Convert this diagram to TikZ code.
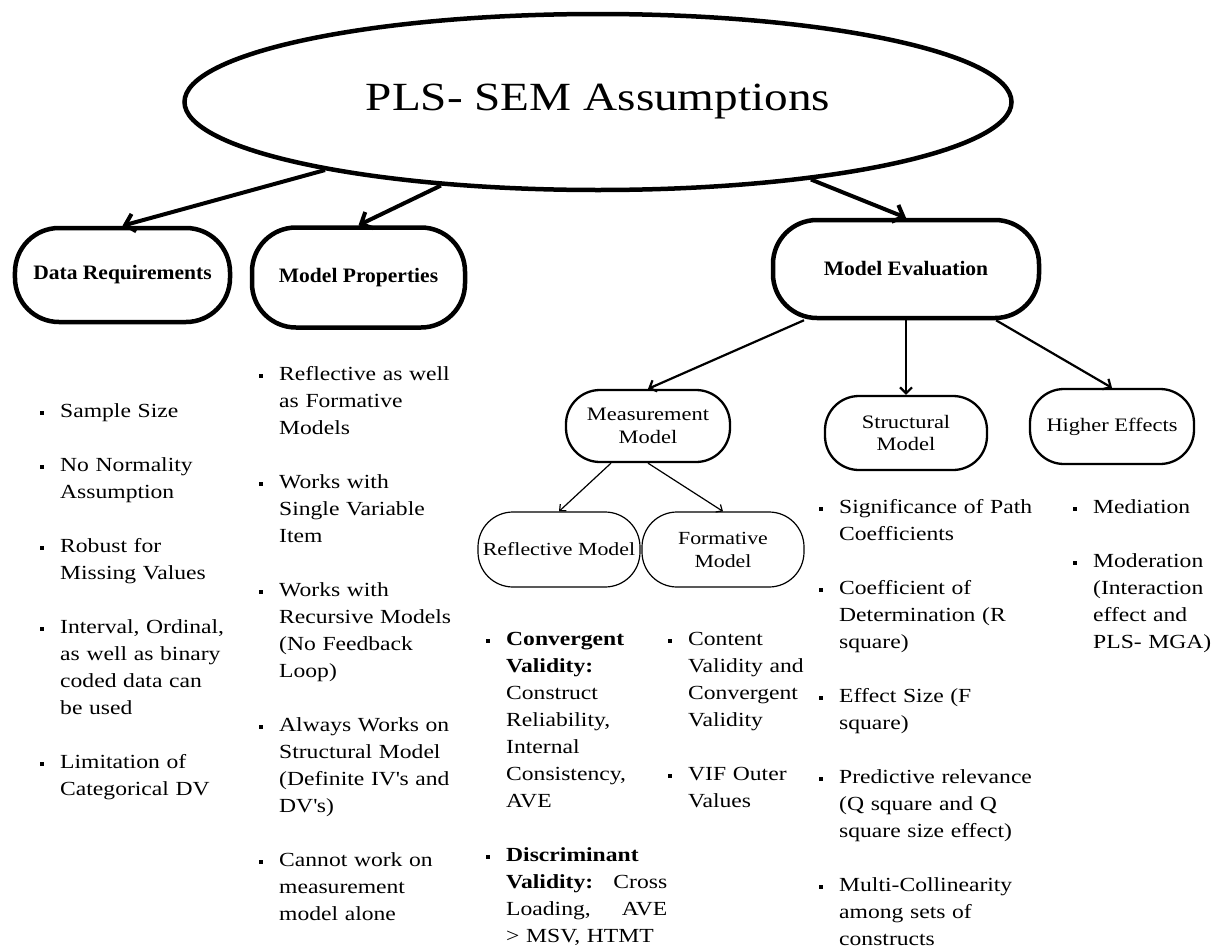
\documentclass[tikz,border=0pt]{standalone}
\usepackage{fontspec}
\setmainfont{Liberation Serif}[FakeStretch=1.18]
\newfontfamily\headfont{Liberation Serif}[FakeStretch=1.05]
\usetikzlibrary{shapes.geometric,arrows.meta}

% small square list mark placed left of each item
\newcommand{\bul}{\leavevmode\llap{\raisebox{2.5bp}{\rule{3.5bp}{3.5bp}}\hspace{16.5bp}}}
% a line spread out to the full column width
\newcommand{\fullline}[1]{\leavevmode\hbox to 161bp{#1}}

\begin{document}
\begin{tikzpicture}[x=1bp,y=-1bp,
  titlenode/.style={ellipse, draw, line width=4.5bp, minimum width=827bp,
    minimum height=176bp, inner sep=0pt, font=\fontsize{40bp}{48bp}\selectfont},
  topbox/.style={draw, line width=4.5bp, rounded corners=44bp, inner sep=0pt,
    align=center, font=\headfont\bfseries\fontsize{20.5bp}{24bp}\selectfont},
  midbox/.style={draw, line width=2.3bp, rounded corners=34bp, inner sep=0pt,
    minimum width=164bp, align=center, font=\fontsize{19bp}{22.5bp}\selectfont},
  lowbox/.style={draw, line width=1.2bp, rounded corners=35bp, inner sep=0pt,
    minimum width=162bp, minimum height=75bp, align=center,
    font=\fontsize{18.5bp}{23bp}\selectfont},
  bigarrow/.style={line width=4bp, -{Straight Barb[length=9bp,width=18bp]}},
  midarrow/.style={line width=2.2bp, -{Straight Barb[length=6bp,width=12bp]}},
  lowarrow/.style={line width=1.2bp, -{Straight Barb[length=5bp,width=9bp]}},
  itemlist/.style={anchor=base west, inner sep=0pt, text width=250bp,
    align=left, font=\fontsize{20bp}{27bp}\selectfont}
]
\useasboundingbox (0,0) rectangle (1217,947);
\clip (0,0) rectangle (1217,947);
\fill[white] (0,0) rectangle (1217,947);

% root
\node[titlenode] (title) at (598,102) {PLS- SEM Assumptions};

% first level
\node[topbox, minimum width=215bp, minimum height=94bp] (dr) at (122.5,275) {Data Requirements};
\node[topbox, minimum width=213bp, minimum height=100bp] (mp) at (358.5,277.5) {Model Properties};
\node[topbox, minimum width=266bp, minimum height=98bp] (me) at (906,269) {Model Evaluation};

% second level
\node[midbox, minimum height=72bp] (mm) at (648,426) {Measurement\\Model};
\node[midbox, minimum width=162bp, minimum height=74bp] (sm) at (906,433) {Structural\\Model};
\node[midbox, minimum height=75bp] (he) at (1112,426.5) {Higher Effects};

% third level
\node[lowbox] (rm) at (559,549.5) {Reflective Model};
\node[lowbox] (fm) at (723,549.5) {Formative\\Model};

% connectors
\draw[bigarrow] (title.194) -- (dr.north);
\draw[bigarrow] (title.208) -- (mp.north);
\draw[bigarrow] (title.340) -- (me.north);
\draw[midarrow] ([xshift=-102bp]me.south) -- (mm.north);
\draw[midarrow] (me.south) -- (sm.north);
\draw[midarrow] ([xshift=90bp]me.south) -- (he.north);
\draw[lowarrow] ([xshift=-37bp]mm.south) -- (rm.north);
\draw[lowarrow] (mm.south) -- (fm.north);

% item lists
\node[itemlist] (drlist) at (60,417) {%
\bul Sample Size\\[27bp]
\bul No Normality\\Assumption\\[27bp]
\bul Robust for\\Missing Values\\[27bp]
\bul Interval, Ordinal,\\as well as binary\\coded data can\\be used\\[27bp]
\bul Limitation of\\Categorical DV};

\node[itemlist] (mplist) at (279,380) {%
\bul Reflective as well\\as Formative\\Models\\[27bp]
\bul Works with\\Single Variable\\Item\\[27bp]
\bul Works with\\Recursive Models\\(No Feedback\\Loop)\\[27bp]
\bul Always Works on\\Structural Model\\(Definite IV\textquotesingle s and\\DV\textquotesingle s)\\[27bp]
\bul Cannot work on\\measurement\\model alone};

\node[itemlist] (rmlist) at (506,645) {%
\bul\textbf{Convergent}\\\textbf{Validity:}\\Construct\\Reliability,\\Internal\\Consistency,\\AVE\\[27bp]
\bul\textbf{Discriminant}\\\fullline{\textbf{Validity:}\hfill Cross}\\\fullline{Loading,\hfill AVE}\\> MSV, HTMT};

\node[itemlist] (fmlist) at (688,645) {%
\bul Content\\Validity and\\Convergent\\Validity\\[27bp]
\bul VIF Outer\\Values};

\node[itemlist] (smlist) at (839,513) {%
\bul Significance of Path\\Coefficients\\[27bp]
\bul Coefficient of\\Determination (R\\square)\\[27bp]
\bul Effect Size (F\\square)\\[27bp]
\bul Predictive relevance\\(Q square and Q\\square size effect)\\[27bp]
\bul Multi-Collinearity\\among sets of\\constructs};

\node[itemlist] (helist) at (1093,513) {%
\bul Mediation\\[27bp]
\bul Moderation\\(Interaction\\effect and\\PLS- MGA)};
\end{tikzpicture}
\end{document}
